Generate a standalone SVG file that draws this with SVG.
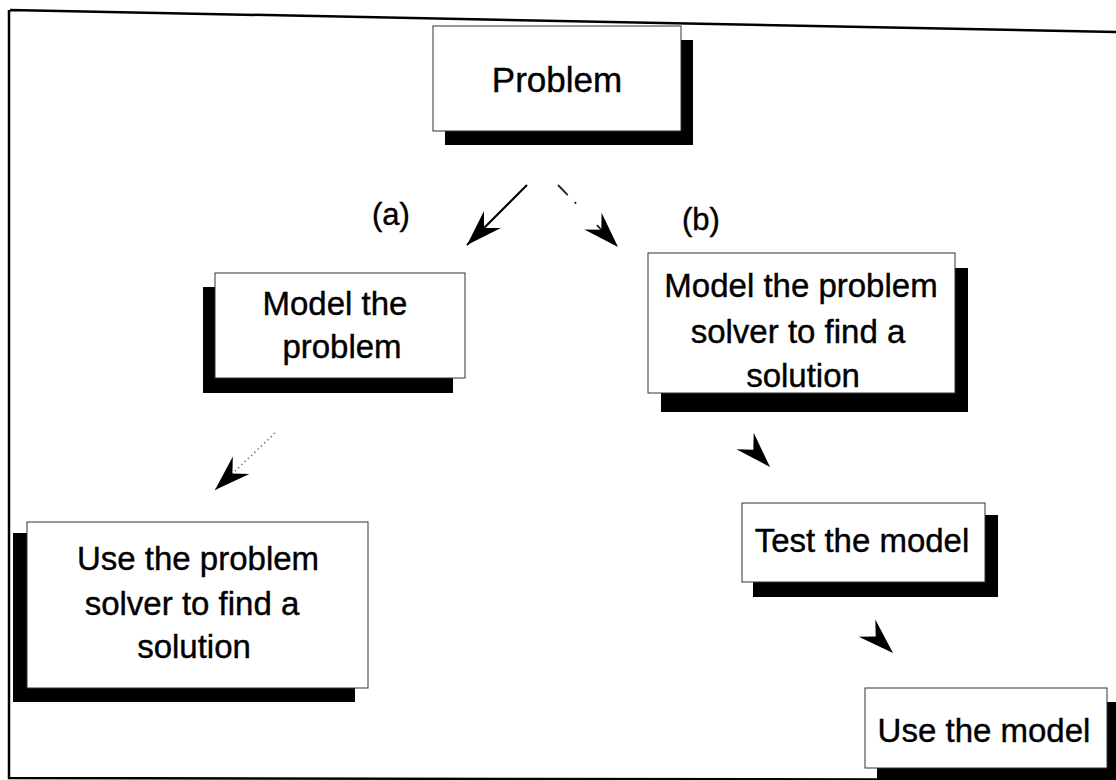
<svg xmlns="http://www.w3.org/2000/svg" width="1116" height="780" viewBox="0 0 1116 780">
<style>
.frame{fill:none;stroke:#000;stroke-width:2.5}
.shadow{fill:#000}
.box{fill:#fff;stroke:#333;stroke-width:1}
.t{font-family:"Liberation Sans",Arial,sans-serif;font-size:33px;fill:#000;stroke:#000;stroke-width:0.4;text-anchor:middle}
.lbl{font-family:"Liberation Sans",Arial,sans-serif;font-size:31px;fill:#000;stroke:#000;stroke-width:0.4;text-anchor:middle}
.solid{fill:none;stroke:#000;stroke-width:2}
.dash{fill:none;stroke:#222;stroke-width:1.8;stroke-dasharray:14 10 2 30}
.dot{fill:none;stroke:#777;stroke-width:1.5;stroke-dasharray:1.5 3}
.bare{fill:none;stroke:none}
</style>
<defs>
<marker id="ah" markerUnits="userSpaceOnUse" viewBox="-38 -14 40 28" refX="0" refY="0" markerWidth="40" markerHeight="28" orient="auto">
<path d="M0,0 L-36,-12 L-24,0 L-36,12 Z" fill="#000"/>
</marker>
</defs>
<rect width="1116" height="780" fill="#fff"/>
<g id="frame">
<path class="frame" d="M10,10 L1116,32 M9,10 L9,778 L1116,780"/>
</g>
<g id="connectors">
<path class="solid" d="M527,185 L467,245" marker-end="url(#ah)"/>
<path class="dash" d="M558,185 L618,247" marker-end="url(#ah)"/>
<path class="dot" d="M275,433 L215,490" marker-end="url(#ah)"/>
<path class="bare" d="M745,441 L770,467" marker-end="url(#ah)"/>
<path class="bare" d="M868,629 L893,653" marker-end="url(#ah)"/>
</g>
<g id="labels">
<text class="lbl" x="391" y="225">(a)</text>
<text class="lbl" x="701" y="230">(b)</text>
</g>
<g id="node-problem">
<rect class="shadow" x="445" y="40" width="248" height="105"/>
<rect class="box" x="433" y="26" width="248" height="105"/>
<text class="t" x="557" y="92" style="font-size:35px">Problem</text>
</g>
<g id="node-model-problem">
<rect class="shadow" x="203" y="287" width="250" height="106"/>
<rect class="box" x="215" y="273" width="250" height="105"/>
<text class="t" x="335" y="315">Model the</text>
<text class="t" x="342" y="358">problem</text>
</g>
<g id="node-model-solver">
<rect class="shadow" x="661" y="268" width="307" height="144"/>
<rect class="box" x="648" y="253" width="307" height="140"/>
<text class="t" x="801" y="297">Model the problem</text>
<text class="t" x="798" y="343">solver to find a</text>
<text class="t" x="803" y="387">solution</text>
</g>
<g id="node-use-solver">
<rect class="shadow" x="13" y="533" width="342" height="169"/>
<rect class="box" x="27" y="522" width="341" height="166"/>
<text class="t" x="198" y="570">Use the problem</text>
<text class="t" x="192" y="615">solver to find a</text>
<text class="t" x="194" y="658">solution</text>
</g>
<g id="node-test">
<rect class="shadow" x="753" y="515" width="245" height="82"/>
<rect class="box" x="742" y="503" width="243" height="79"/>
<text class="t" x="862" y="552">Test the model</text>
</g>
<g id="node-use-model">
<rect class="shadow" x="877" y="702" width="245" height="82"/>
<rect class="box" x="865" y="688" width="242" height="80"/>
<text class="t" x="984" y="742">Use the model</text>
</g>
</svg>
